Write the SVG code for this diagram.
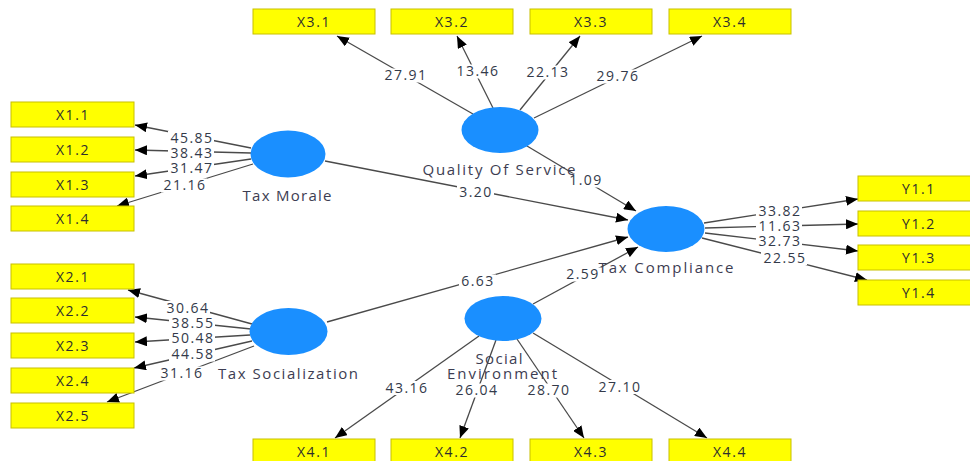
<svg xmlns="http://www.w3.org/2000/svg" width="970" height="461" viewBox="0 0 970 461">
<style>
.box{fill:#ffff00;stroke:#c8c000;stroke-width:1}
.lv{fill:#1a8fff}
.bt{font-family:"Open Sans","Liberation Sans",sans-serif;font-size:14px;fill:#2e2e2e;text-anchor:middle;letter-spacing:1.6px}
.nl{font-family:"Open Sans","Liberation Sans",sans-serif;font-size:15px;fill:#3d3d52;text-anchor:middle}
.el{font-family:"Open Sans","Liberation Sans",sans-serif;font-size:14px;fill:#333a4a;text-anchor:middle;letter-spacing:1.5px}
.bg{fill:#fff}
.c{stroke:#4a4a4a;stroke-width:1.3;fill:none;marker-end:url(#ah)}
</style>
<defs>
<marker id="ah" viewBox="0 0 12 10" refX="12" refY="5" markerWidth="12" markerHeight="10" markerUnits="userSpaceOnUse" orient="auto">
<path d="M0,0 L12,5 L0,10 z" fill="#000"/>
</marker>
</defs>
<rect width="970" height="461" fill="#fff"/>
<g id="connectors">
<line class="c" x1="251" y1="148" x2="135" y2="125"/>
<line class="c" x1="251" y1="153" x2="135" y2="150"/>
<line class="c" x1="251" y1="159" x2="135" y2="176"/>
<line class="c" x1="253" y1="164" x2="117" y2="206"/>
<line class="c" x1="325" y1="161" x2="628" y2="220"/>
<line class="c" x1="527" y1="146" x2="636" y2="211"/>
<line class="c" x1="327" y1="322" x2="628" y2="237"/>
<line class="c" x1="533" y1="304" x2="638" y2="247"/>
<line class="c" x1="704" y1="223" x2="858" y2="199"/>
<line class="c" x1="705" y1="228" x2="858" y2="224"/>
<line class="c" x1="705" y1="233" x2="858" y2="251"/>
<line class="c" x1="702" y1="238" x2="867" y2="280"/>
<line class="c" x1="252" y1="324" x2="128" y2="290"/>
<line class="c" x1="251" y1="329" x2="135" y2="317"/>
<line class="c" x1="250" y1="335" x2="135" y2="342"/>
<line class="c" x1="252" y1="341" x2="134" y2="368"/>
<line class="c" x1="254" y1="346" x2="107" y2="402"/>
<line class="c" x1="479" y1="336" x2="335" y2="438"/>
<line class="c" x1="496" y1="340" x2="460" y2="438"/>
<line class="c" x1="517" y1="339" x2="584" y2="438"/>
<line class="c" x1="533" y1="333" x2="707" y2="438"/>
<line class="c" x1="473" y1="114" x2="337" y2="36"/>
<line class="c" x1="493" y1="108" x2="457" y2="36"/>
<line class="c" x1="520" y1="110" x2="580" y2="36"/>
<line class="c" x1="534" y1="118" x2="702" y2="36"/>
<g id="edge-label-bg">
<rect class="bg" x="168" y="131" width="46" height="14"/>
<rect class="bg" x="168" y="146" width="46" height="14"/>
<rect class="bg" x="168" y="161" width="46" height="14"/>
<rect class="bg" x="161" y="178.5" width="46" height="14"/>
<rect class="bg" x="164" y="301" width="46" height="14"/>
<rect class="bg" x="169" y="316.5" width="46" height="14"/>
<rect class="bg" x="169" y="331.5" width="46" height="14"/>
<rect class="bg" x="169" y="347.5" width="46" height="14"/>
<rect class="bg" x="158" y="366.5" width="46" height="14"/>
<rect class="bg" x="382" y="68.5" width="46" height="14"/>
<rect class="bg" x="454" y="64.5" width="46" height="14"/>
<rect class="bg" x="524" y="65.5" width="46" height="14"/>
<rect class="bg" x="594" y="69.5" width="46" height="14"/>
<rect class="bg" x="383" y="381" width="46" height="14"/>
<rect class="bg" x="453" y="383.5" width="46" height="14"/>
<rect class="bg" x="525" y="383.5" width="46" height="14"/>
<rect class="bg" x="596" y="380" width="46" height="14"/>
<rect class="bg" x="756" y="204" width="46" height="14"/>
<rect class="bg" x="756" y="219.5" width="46" height="14"/>
<rect class="bg" x="756" y="234.5" width="46" height="14"/>
<rect class="bg" x="761" y="251" width="46" height="14"/>
<rect class="bg" x="457" y="185.5" width="37" height="14"/>
<rect class="bg" x="567" y="173.5" width="37" height="14"/>
<rect class="bg" x="459" y="274.5" width="37" height="14"/>
<rect class="bg" x="564" y="267.5" width="37" height="14"/>
</g>
<g id="edge-labels">
<text class="el" x="192" y="142.5">45.85</text>
<text class="el" x="192" y="157.5">38.43</text>
<text class="el" x="192" y="172.5">31.47</text>
<text class="el" x="185" y="190">21.16</text>
<text class="el" x="188" y="312.5">30.64</text>
<text class="el" x="193" y="328">38.55</text>
<text class="el" x="193" y="343">50.48</text>
<text class="el" x="193" y="359">44.58</text>
<text class="el" x="182" y="378">31.16</text>
<text class="el" x="406" y="80">27.91</text>
<text class="el" x="478" y="76">13.46</text>
<text class="el" x="548" y="77">22.13</text>
<text class="el" x="618" y="81">29.76</text>
<text class="el" x="407" y="392.5">43.16</text>
<text class="el" x="477" y="395">26.04</text>
<text class="el" x="549" y="395">28.70</text>
<text class="el" x="620" y="391.5">27.10</text>
<text class="el" x="780" y="215.5">33.82</text>
<text class="el" x="780" y="231">11.63</text>
<text class="el" x="780" y="246">32.73</text>
<text class="el" x="785" y="262.5">22.55</text>
<text class="el" x="476" y="197">3.20</text>
<text class="el" x="586" y="185">1.09</text>
<text class="el" x="478" y="286">6.63</text>
<text class="el" x="583" y="279">2.59</text>
</g>
</g>
<g id="X1.1"><rect class="box" x="11" y="102" width="123" height="25"/><text class="bt" x="73" y="120">X1.1</text></g>
<g id="X1.2"><rect class="box" x="11" y="137" width="123" height="25"/><text class="bt" x="73" y="155">X1.2</text></g>
<g id="X1.3"><rect class="box" x="11" y="172" width="123" height="25"/><text class="bt" x="73" y="190">X1.3</text></g>
<g id="X1.4"><rect class="box" x="11" y="206" width="123" height="25"/><text class="bt" x="73" y="224">X1.4</text></g>
<g id="X2.1"><rect class="box" x="11" y="264" width="123" height="25"/><text class="bt" x="73" y="282">X2.1</text></g>
<g id="X2.2"><rect class="box" x="11" y="298" width="123" height="25"/><text class="bt" x="73" y="316">X2.2</text></g>
<g id="X2.3"><rect class="box" x="11" y="333" width="123" height="25"/><text class="bt" x="73" y="351">X2.3</text></g>
<g id="X2.4"><rect class="box" x="11" y="368" width="123" height="25"/><text class="bt" x="73" y="386">X2.4</text></g>
<g id="X2.5"><rect class="box" x="11" y="403" width="123" height="25"/><text class="bt" x="73" y="421">X2.5</text></g>
<g id="X3.1"><rect class="box" x="253" y="9" width="122" height="25"/><text class="bt" x="314" y="27">X3.1</text></g>
<g id="X3.2"><rect class="box" x="391" y="9" width="122" height="25"/><text class="bt" x="452" y="27">X3.2</text></g>
<g id="X3.3"><rect class="box" x="530" y="9" width="122" height="25"/><text class="bt" x="591" y="27">X3.3</text></g>
<g id="X3.4"><rect class="box" x="669" y="9" width="122" height="25"/><text class="bt" x="730" y="27">X3.4</text></g>
<g id="X4.1"><rect class="box" x="253" y="439" width="122" height="25"/><text class="bt" x="314" y="457">X4.1</text></g>
<g id="X4.2"><rect class="box" x="391" y="439" width="122" height="25"/><text class="bt" x="452" y="457">X4.2</text></g>
<g id="X4.3"><rect class="box" x="530" y="439" width="122" height="25"/><text class="bt" x="591" y="457">X4.3</text></g>
<g id="X4.4"><rect class="box" x="669" y="439" width="122" height="25"/><text class="bt" x="730" y="457">X4.4</text></g>
<g id="Y1.1"><rect class="box" x="858" y="176" width="122" height="25"/><text class="bt" x="919" y="194">Y1.1</text></g>
<g id="Y1.2"><rect class="box" x="858" y="211" width="122" height="25"/><text class="bt" x="919" y="229">Y1.2</text></g>
<g id="Y1.3"><rect class="box" x="858" y="245" width="122" height="25"/><text class="bt" x="919" y="263">Y1.3</text></g>
<g id="Y1.4"><rect class="box" x="858" y="280" width="122" height="25"/><text class="bt" x="919" y="298">Y1.4</text></g>
<g id="tax-morale"><ellipse class="lv" cx="288" cy="154" rx="37.5" ry="23.5"/><text class="nl" x="287" y="200.5" textLength="89" lengthAdjust="spacing">Tax Morale</text></g>
<g id="quality-of-service"><ellipse class="lv" cx="500" cy="130" rx="38.5" ry="23"/><text class="nl" x="499" y="175" textLength="153" lengthAdjust="spacing">Quality Of Service</text></g>
<g id="tax-compliance"><ellipse class="lv" cx="666" cy="229" rx="38.5" ry="23"/><text class="nl" x="666" y="273" textLength="135" lengthAdjust="spacing">Tax Compliance</text></g>
<g id="tax-socialization"><ellipse class="lv" cx="288.5" cy="331.5" rx="39" ry="23.5"/><text class="nl" x="288" y="379" textLength="140" lengthAdjust="spacing">Tax Socialization</text></g>
<g id="social-environment"><ellipse class="lv" cx="503" cy="318.5" rx="38.5" ry="22.5"/><text class="nl" x="499" y="364" textLength="47" lengthAdjust="spacing">Social</text><text class="nl" x="502" y="379" textLength="110" lengthAdjust="spacing">Environment</text></g>
</svg>
